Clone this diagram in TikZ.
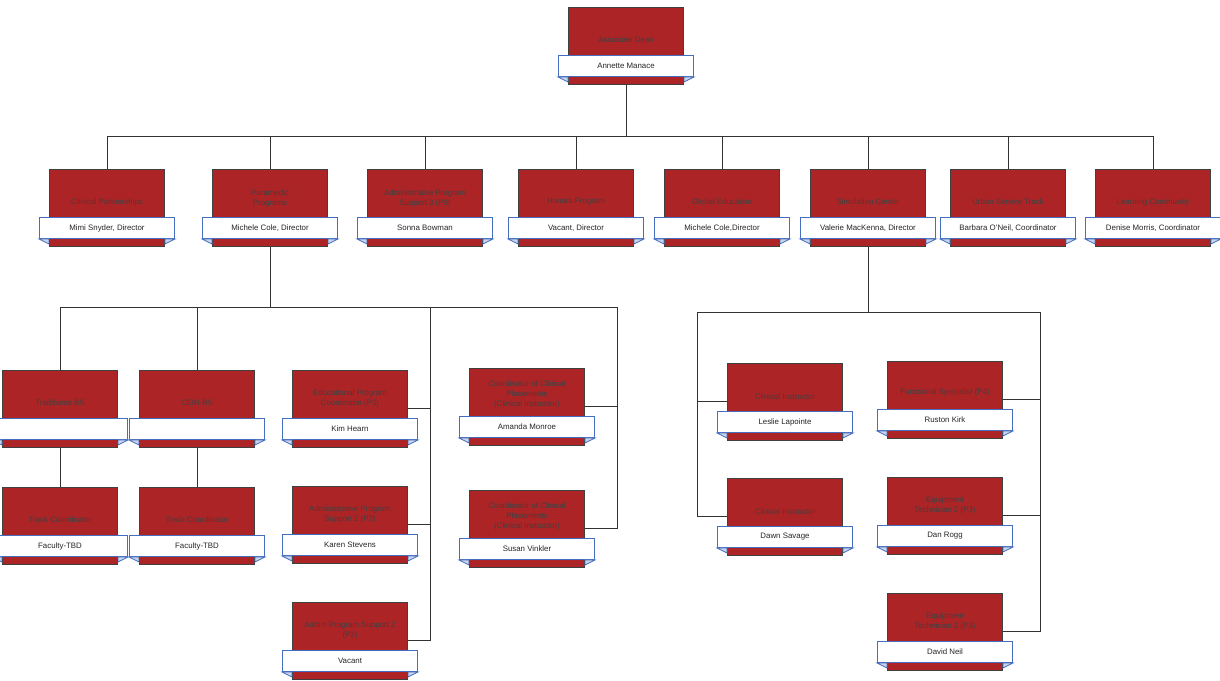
\documentclass[tikz,border=0pt]{standalone}
\usepackage{fontspec}
\setmainfont{Liberation Sans}
\usepackage{tikz}
\usetikzlibrary{positioning}

\definecolor{boxred}{RGB}{172,36,38}
\definecolor{barblue}{RGB}{70,110,190}
\definecolor{foldblue}{RGB}{200,212,235}

\begin{document}
\begin{tikzpicture}[x=0.025cm, y=-0.025cm,
    post/.style={draw=black!75, line width=0.6pt, fill=boxred, minimum width=2.875cm, minimum height=1.925cm, inner sep=0pt},
    title/.style={text=black!75, align=center, font=\fontsize{5.6}{7.1}\selectfont, inner sep=0pt},
    namebar/.style={draw=barblue, line width=0.7pt, fill=white, minimum width=3.375cm, minimum height=0.525cm, inner sep=0pt, text=black!85, font=\fontsize{5.6}{7.1}\selectfont},
    fold/.style={draw=barblue, line width=0.5pt, fill=foldblue},
    link/.style={draw=black!80, line width=0.7pt}]

    \useasboundingbox (0,0) rectangle (1220,681);

    % Caselle: nome / x / y in alto / scarto del ruolo / ruolo / persona
    \foreach \n/\x/\y/\dy/\ttl/\who in {
        dean/626/7/33/Associate Dean/Annette Manace,
        cp/107/169/33/Clinical Partnerships/{Mimi Snyder, Director},
        para/270/169/29/{Paramedic\\Programs}/{Michele Cole, Director},
        aps3/425/169/29/{Administrative Program\\Support 3 (P3)}/Sonna Bowman,
        hon/576/169/33/Honors Program/{Vacant, Director},
        glob/722/169/33/Global Education/{Michele Cole,Director},
        sim/868/169/33/Simulation Center/{Valerie MacKenna, Director},
        ust/1008/169/33/Urban Service Track/{Barbara O'Neil, Coordinator},
        lc/1153/169/33/Learning Community/{Denise Morris, Coordinator},
        trad/60/370/33/Traditional BS/{},
        cein/197/370/33/CEIN-BS/{},
        tc1/60/487/33/Track Coordinator/Faculty-TBD,
        tc2/197/487/33/Track Coordinator/Faculty-TBD,
        edu/350/370/28/{Educational Program\\Coordinator (P3)}/Kim Hearn,
        aps2/350/486/28/{Administrative Program\\Support 2 (P2)}/Karen Stevens,
        admn/350/602/28/{Adm'n Program Support 2\\(P2)}/Vacant,
        cor1/527/368/26/{Coordinator of Clinical\\Placements\\(Clinical Instructor)}/Amanda Monroe,
        cor2/527/490/26/{Coordinator of Clinical\\Placements\\(Clinical Instructor)}/Susan Vinkler,
        ci1/785/363/34/Clinical Instructor/Leslie Lapointe,
        ci2/785/478/34/Clinical Instructor/Dawn Savage,
        fs/945/361/31/Functional Specialist (P4)/Ruston Kirk,
        eq1/945/477/28/{Equipment\\Technician 2 (P3)}/Dan Rogg,
        eq2/945/593/28/{Equipment\\Technician 2 (P3)}/David Neil} {
        \node[post, anchor=north] (\n) at (\x,\y) {};
        \node[title] (\n-t) at (\x,\y+\dy) {\ttl};
        \node[namebar] (\n-n) at (\x,\y+59) {\who};
        \filldraw[fold] (\n-n.south west) -- ++(10,0) -- ++(0,5) -- cycle;
        \filldraw[fold] (\n-n.south east) -- ++(-10,0) -- ++(0,5) -- cycle;
    }

    % Primo livello
    \coordinate (bus) at (0,136);
    \draw[link] (dean.south) -- (dean.south |- bus);
    \draw[link] (cp.north |- bus) -- (lc.north |- bus);
    \foreach \n in {cp,para,aps3,hon,glob,sim,ust,lc}
        \draw[link] (\n.north) -- (\n.north |- bus);

    % Programmi paramedici
    \coordinate (pspine) at (617,307);
    \coordinate (espine) at (430,307);
    \draw[link] (para.south) -- (para.south |- pspine);
    \draw[link] (trad.north) |- (pspine) |- (cor2.east);
    \draw[link] (cein.north) -- (cein.north |- pspine);
    \draw[link] (cor1.east) -- (cor1.east -| pspine);
    \draw[link] (espine) |- (admn.east);
    \draw[link] (edu.east) -- (edu.east -| espine);
    \draw[link] (aps2.east) -- (aps2.east -| espine);
    \draw[link] (trad.south) -- (tc1.north);
    \draw[link] (cein.south) -- (tc2.north);

    % Centro di simulazione
    \coordinate (sl) at (697,312);
    \coordinate (sr) at (1040,312);
    \draw[link] (sim.south) -- (sim.south |- sl);
    \draw[link] (ci2.west) -| (sl) -- (sr) |- (eq2.east);
    \draw[link] (ci1.west) -- (ci1.west -| sl);
    \draw[link] (fs.east) -- (fs.east -| sr);
    \draw[link] (eq1.east) -- (eq1.east -| sr);
\end{tikzpicture}
\end{document}
